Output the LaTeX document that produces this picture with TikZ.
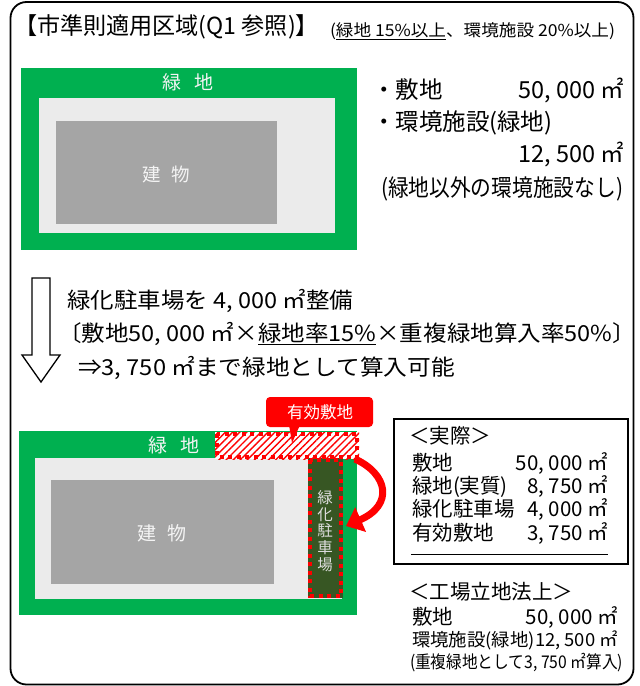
\documentclass[tikz,border=0pt]{standalone}
\usepackage{fontspec}
\setmainfont{Noto Sans CJK JP}
\usetikzlibrary{arrows.meta,patterns.meta}
\definecolor{grn}{HTML}{00B050}
\definecolor{lgr}{HTML}{EBEBEB}
\definecolor{dgr}{HTML}{A5A5A5}
\definecolor{park}{HTML}{375623}
\definecolor{rd}{HTML}{FF0000}
\definecolor{wtxt}{HTML}{F4F4F4}
\definecolor{ptxt}{HTML}{DDDDDD}
\newcommand\fitw[2]{\resizebox{#1}{\height}{#2}}
\begin{document}
\begin{tikzpicture}[x=1pt,y=-1pt,
  fs/.style={font=\fontsize{#1pt}{#1pt}\selectfont},
  txl/.style={inner sep=0pt, outer sep=0pt, anchor=base west},
  txr/.style={inner sep=0pt, outer sep=0pt, anchor=base east},
  lbl/.style={inner sep=0pt, outer sep=0pt, text=wtxt},
  frame/.style={draw=black, line width=1.8pt, rounded corners=16pt},
  reddots/.style={draw=rd, line width=4pt, dash pattern=on 4pt off 4.5pt},
  hollowarrow/.style={draw=black, line width=1.3pt, fill=white, line join=miter},
  bigred/.style={draw=rd, line width=7pt, -{Triangle[length=16pt,width=26pt]}},
  boxline/.style={draw=black, line width=1.8pt}]
\useasboundingbox (0,0) rectangle (640,686);
\fill[white] (0,0) rectangle (640,686);
% outer frame
\draw[frame] (10.5,2) rectangle (633.5,684.5);
% heading
\node[txl, fs=23.5] (head) at (14,34.5) {\fitw{305pt}{【市準則適用区域(Q1 参照)】}};
\node[txl, fs=16.5] (cond) at (330,36.3) {\fitw{285pt}{(\underline{緑地 15\%以上}、環境施設 20\%以上)}};
% top site
\fill[grn] (21,68) rectangle (357,250);
\fill[lgr] (39,98) rectangle (335,233);
\fill[dgr] (56,121) rectangle (277,224);
\node[lbl, fs=19] (g1) at (188,82) {緑\hspace{0.66em}地};
\node[lbl, fs=18.5] (b1) at (166,174) {建\hspace{0.57em}物};
% top right text
\node[txl, fs=23.5] (t1) at (372,98) {・敷地};
\node[txr, fs=23.5] (t1v) at (624,98) {50, 000 ㎡};
\node[txl, fs=23.5] (t2) at (372,130) {・環境施設(緑地)};
\node[txr, fs=23.5] (t2v) at (624,162) {12, 500 ㎡};
\node[txl, fs=23.5] (t3) at (381,196) {\fitw{242pt}{(緑地以外の環境施設なし)}};
% hollow arrow
\draw[hollowarrow] (32,278) -- (50,278) -- (50,355) -- (60,355) -- (41,382) -- (22,355) -- (32,355) -- cycle;
% middle text
\node[txl, fs=22] (m1) at (67,308.4) {\fitw{286pt}{緑化駐車場を 4, 000 ㎡整備}};
\node[txl, fs=22] (m2) at (58,341.4) {\fitw{578pt}{〔敷地50, 000 ㎡×\underline{緑地率15\%}×重複緑地算入率50\%〕}};
\node[txl, fs=22] (m3) at (78,375.4) {\fitw{377pt}{⇒3, 750 ㎡まで緑地として算入可能}};
% bottom site
\fill[grn] (19,431) rectangle (357,615);
\fill[lgr] (35,458) rectangle (342,599);
\fill[dgr] (51,480) rectangle (274,584);
\node[lbl, fs=19] (g2) at (174,445) {緑\hspace{0.7em}地};
\node[lbl, fs=19] (b2) at (162,533) {建\hspace{0.55em}物};
% effective site band
\fill[white] (215,432) rectangle (359,459);
\fill[pattern={Lines[angle=45,distance=5pt,line width=1.4pt]}, pattern color=rd] (215,432) rectangle (359,459);
\fill[park] (308,458) rectangle (343,598);
\draw[reddots] (217,434) rectangle (357,457);
\draw[reddots] (310,460) rectangle (341,596);
\node[inner sep=0pt, text=ptxt, align=center, font=\fontsize{15.5pt}{16.8pt}\selectfont] (pk) at (325,531) {緑\\化\\駐\\車\\場};
% callout
\fill[rd, rounded corners=4pt] (266,397) rectangle (373,427);
\fill[rd] (289,425) -- (300,425) -- (292,443) -- cycle;
\node[lbl, fs=16.5, text=white] (co) at (320,412) {有効敷地};
% curved red arrow
\coordinate (ca) at (355,459);
\coordinate (cb) at (346,526);
\draw[bigred] (ca) .. controls (388,474) and (394,505) .. (cb);
% right box
\draw[boxline] (394,419) rectangle (628,564);
\node[txl, fs=20.5] (r0) at (409,443.8) {＜実際＞};
\node[txl, fs=20.5] (r1) at (412,470.8) {敷地};
\node[txr, fs=20.5] (r1v) at (608,470.8) {50, 000 ㎡};
\node[txl, fs=20.5] (r2) at (412,493.8) {緑地(実質)};
\node[txr, fs=20.5] (r2v) at (608,493.8) {8, 750 ㎡};
\node[txl, fs=20.5] (r3) at (412,516.8) {緑化駐車場};
\node[txr, fs=20.5] (r3v) at (608,516.8) {4, 000 ㎡};
\node[txl, fs=20.5] (r4) at (412,540.8) {有効敷地};
\node[txr, fs=20.5] (r4v) at (608,540.8) {3, 750 ㎡};
\coordinate (ul1) at (411,554);
\coordinate (ul2) at (608,554);
\draw[line width=1pt] (ul1) -- (ul2);
% law section
\node[txl, fs=20.5] (l0) at (409,599.8) {＜工場立地法上＞};
\node[txl, fs=20.5] (l1) at (412,624.8) {敷地};
\node[txr, fs=20.5] (l1v) at (618,624.8) {50, 000 ㎡};
\node[txl, fs=18] (l2) at (412,646.8) {\fitw{206pt}{環境施設(緑地)12, 500 ㎡}};
\node[txl, fs=17.5] (l3) at (410,668.7) {\fitw{213pt}{(重複緑地として3, 750 ㎡算入)}};
\end{tikzpicture}
\end{document}
